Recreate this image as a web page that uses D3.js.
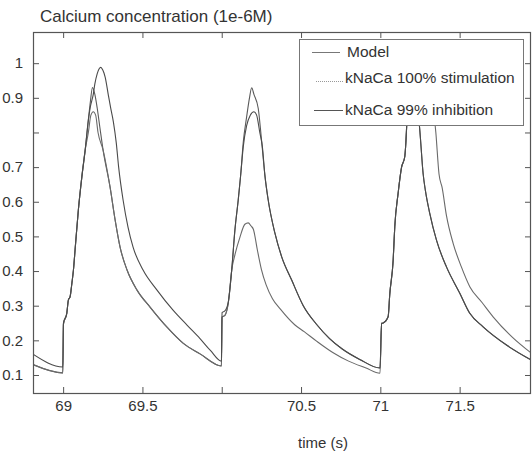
<!DOCTYPE html>
<html>
<head>
<meta charset="utf-8">
<script src="https://cdn.jsdelivr.net/npm/d3@7"></script>
<style>
  body { margin: 0; background: #fff; }
  svg { display: block; font-family: Arial, "Liberation Sans", sans-serif; }
  .axis path { display: none; }
  .axis line { stroke: #555; }
  .axis text { fill: #333; font-size: 15px; }
</style>
</head>
<body>
<svg id="chart"></svg>
<script>
// tick values / labels (0.8 and 70 have no label in the original)
var xTicks = [69, 69.5, 70, 70.5, 71, 71.5],
    xTickLabels = ["69", "69.5", "", "70.5", "71", "71.5"],
    yTicks = [0.1, 0.2, 0.3, 0.4, 0.5, 0.6, 0.7, 0.8, 0.9, 1],
    yTickLabels = ["0.1", "0.2", "0.3", "0.4", "0.5", "0.6", "0.7", "", "0.9", "1"];

var seriesNames = ["Model", "kNaCa 100% stimulation", "kNaCa 99% inhibition"];

// Model
var modelT = [68.81, 68.998,
  69.002, 69.023, 69.033, 69.044, 69.055, 69.065, 69.076, 69.096, 69.118, 69.139, 69.159, 69.172, 69.185, 69.2, 69.215, 69.233, 69.252, 69.296, 69.328, 69.359, 69.403, 69.466, 69.548, 69.655, 69.756, 69.863, 69.998,
  70.002, 70.02, 70.041, 70.063, 70.083, 70.104, 70.12, 70.136, 70.157, 70.175, 70.189, 70.203, 70.23, 70.252, 70.272, 70.293, 70.335, 70.378, 70.441, 70.514, 70.6, 70.68, 70.76, 70.87, 70.998,
  71.008, 71.018, 71.049, 71.06, 71.081, 71.091, 71.112, 71.134, 71.154, 71.165, 71.171, 71.19, 71.21, 71.23, 71.25, 71.27, 71.285, 71.312, 71.354, 71.417, 71.501, 71.564, 71.648, 71.8, 71.952];
var modelCa = [0.13, 0.106,
  0.247, 0.278, 0.316, 0.326, 0.364, 0.403, 0.465, 0.576, 0.672, 0.749, 0.836, 0.89, 0.93, 0.91, 0.87, 0.81, 0.749, 0.642, 0.547, 0.469, 0.403, 0.345, 0.296, 0.238, 0.192, 0.161, 0.126,
  0.267, 0.272, 0.307, 0.403, 0.518, 0.605, 0.68, 0.773, 0.845, 0.9, 0.929, 0.91, 0.87, 0.773, 0.677, 0.605, 0.51, 0.441, 0.374, 0.3, 0.245, 0.205, 0.175, 0.145, 0.12,
  0.249, 0.25, 0.268, 0.336, 0.432, 0.528, 0.624, 0.7, 0.73, 0.807, 0.874, 0.93, 0.95, 0.9, 0.8, 0.68, 0.63, 0.566, 0.489, 0.412, 0.336, 0.278, 0.239, 0.185, 0.143];

// kNaCa 100% stimulation
var stimT = [68.81, 68.998,
  69.002, 69.023, 69.033, 69.044, 69.055, 69.065, 69.076, 69.096, 69.118, 69.139, 69.159, 69.175, 69.19, 69.205, 69.22, 69.252, 69.296, 69.328, 69.359, 69.403, 69.466, 69.548, 69.655, 69.756, 69.863, 69.998,
  70.002, 70.02, 70.041, 70.063, 70.085, 70.115, 70.146, 70.167, 70.185, 70.2, 70.225, 70.25, 70.28, 70.32, 70.37, 70.46, 70.52, 70.6, 70.7, 70.8, 70.91, 70.998,
  71.008, 71.018, 71.049, 71.06, 71.081, 71.091, 71.112, 71.134, 71.154, 71.165, 71.171, 71.2, 71.24, 71.28, 71.31, 71.35, 71.37, 71.39, 71.417, 71.459, 71.511, 71.564, 71.64, 71.711, 71.83, 71.952];
var stimCa = [0.13, 0.106,
  0.247, 0.278, 0.316, 0.326, 0.364, 0.403, 0.465, 0.576, 0.672, 0.749, 0.8, 0.85, 0.86, 0.85, 0.8, 0.749, 0.642, 0.547, 0.469, 0.403, 0.345, 0.296, 0.238, 0.192, 0.161, 0.126,
  0.267, 0.272, 0.307, 0.403, 0.45, 0.498, 0.535, 0.539, 0.53, 0.52, 0.46, 0.405, 0.36, 0.32, 0.29, 0.245, 0.225, 0.197, 0.165, 0.14, 0.12, 0.105,
  0.249, 0.25, 0.268, 0.336, 0.432, 0.528, 0.624, 0.7, 0.73, 0.807, 0.874, 0.95, 1.0, 1.01, 0.95, 0.8, 0.68, 0.64, 0.56, 0.48, 0.412, 0.355, 0.31, 0.268, 0.21, 0.163];

// kNaCa 99% inhibition
var inhibT = [68.81, 68.998,
  69.002, 69.023, 69.033, 69.044, 69.055, 69.065, 69.076, 69.096, 69.118, 69.139, 69.159, 69.172, 69.19, 69.2, 69.215, 69.237, 69.25, 69.265, 69.285, 69.3, 69.317, 69.335, 69.35, 69.378, 69.409, 69.441, 69.504, 69.592, 69.693, 69.781, 69.863, 69.93, 69.998,
  70.002, 70.02, 70.041, 70.063, 70.083, 70.104, 70.12, 70.136, 70.157, 70.18, 70.203, 70.22, 70.24, 70.256, 70.272, 70.293, 70.335, 70.378, 70.441, 70.514, 70.6, 70.68, 70.76, 70.87, 70.998,
  71.008, 71.018, 71.049, 71.06, 71.081, 71.091, 71.112, 71.134, 71.154, 71.165, 71.171, 71.19, 71.21, 71.23, 71.25, 71.27, 71.285, 71.312, 71.354, 71.417, 71.501, 71.564, 71.648, 71.8, 71.952];
var inhibCa = [0.16, 0.123,
  0.25, 0.278, 0.316, 0.326, 0.364, 0.403, 0.465, 0.576, 0.672, 0.749, 0.836, 0.875, 0.91, 0.94, 0.97, 0.988, 0.98, 0.96, 0.908, 0.87, 0.83, 0.77, 0.7, 0.605, 0.527, 0.469, 0.403, 0.345, 0.287, 0.244, 0.205, 0.17, 0.14,
  0.28, 0.285, 0.31, 0.403, 0.518, 0.605, 0.68, 0.76, 0.82, 0.85, 0.86, 0.85, 0.8, 0.76, 0.677, 0.605, 0.51, 0.441, 0.374, 0.3, 0.245, 0.205, 0.175, 0.145, 0.12,
  0.249, 0.25, 0.268, 0.336, 0.432, 0.528, 0.624, 0.7, 0.73, 0.807, 0.874, 0.93, 0.95, 0.9, 0.8, 0.68, 0.63, 0.566, 0.489, 0.412, 0.336, 0.278, 0.239, 0.185, 0.143];

var W = 532, H = 451,
    plot = {left: 33, right: 531, top: 32, bottom: 393};

var svg = d3.select("#chart").attr("width", W).attr("height", H);

var x = d3.scaleLinear().domain([68.81, 71.95]).range([plot.left, plot.right]),
    y = d3.scaleLinear().domain([0.048, 1.09]).range([plot.bottom, plot.top]);

svg.append("defs").append("clipPath").attr("id", "clip")
  .append("rect")
    .attr("x", plot.left).attr("y", plot.top)
    .attr("width", plot.right - plot.left).attr("height", plot.bottom - plot.top);

var line = d3.line()
    .x(function(d) { return x(d.t); })
    .y(function(d) { return y(d.v); })
    .curve(d3.curveMonotoneX);

function zip(ts, vs) {
  return ts.map(function(t, i) { return {t: t, v: vs[i]}; });
}

var series = [
  {name: seriesNames[0], data: zip(modelT, modelCa), color: "#5a5a5a"},
  {name: seriesNames[1], data: zip(stimT, stimCa), color: "#6a6a6a"},
  {name: seriesNames[2], data: zip(inhibT, inhibCa), color: "#4a4a4a"}
];

var lines = svg.append("g").attr("clip-path", "url(#clip)");
lines.selectAll("path")
    .data(series)
  .enter().append("path")
    .attr("fill", "none")
    .attr("stroke", function(d) { return d.color; })
    .attr("stroke-width", 1.1)
    .attr("d", function(d) { return line(d.data); });

// axes, ticks pointing inward (matlab style)
svg.append("g")
    .attr("class", "axis")
    .attr("transform", "translate(0," + plot.bottom + ")")
    .call(d3.axisBottom(x).tickValues(xTicks).tickSize(-6).tickPadding(7)
      .tickFormat(function(d, i) { return xTickLabels[i]; }));

svg.append("g")
    .attr("class", "axis")
    .attr("transform", "translate(0," + plot.top + ")")
    .call(d3.axisTop(x).tickValues(xTicks).tickSize(-6).tickFormat(""));

svg.append("g")
    .attr("class", "axis")
    .attr("transform", "translate(" + plot.left + ",0)")
    .call(d3.axisLeft(y).tickValues(yTicks).tickSize(-6).tickPadding(10)
      .tickFormat(function(d, i) { return yTickLabels[i]; }));

svg.append("g")
    .attr("class", "axis")
    .attr("transform", "translate(" + plot.right + ",0)")
    .call(d3.axisRight(y).tickValues(yTicks).tickSize(-6).tickFormat(""));

// plot box
svg.append("rect")
    .attr("x", plot.left + 0.5).attr("y", plot.top + 0.5)
    .attr("width", plot.right - plot.left - 1).attr("height", plot.bottom - plot.top)
    .attr("fill", "none").attr("stroke", "#555").attr("stroke-width", 1.2);

// title and x label
svg.append("text")
    .attr("x", 40).attr("y", 22)
    .attr("fill", "#333").style("font-size", "17px")
    .text("Calcium concentration (1e-6M)");

svg.append("text")
    .attr("x", 323).attr("y", 448)
    .attr("text-anchor", "middle")
    .attr("fill", "#333").style("font-size", "15px")
    .text("time (s)");

// legend
var legend = svg.append("g");
legend.append("rect")
    .attr("x", 299.5).attr("y", 39.5).attr("width", 224).attr("height", 86)
    .attr("fill", "#fff").attr("stroke", "#777").attr("stroke-width", 1);

var legendRows = [
  {y: 52, lx1: 312, lx2: 340, tx: 347, color: "#777", dash: null, width: 1},
  {y: 81, lx1: 316, lx2: 343, tx: 345, color: "#999", dash: "1,1", width: 1},
  {y: 110, lx1: 314, lx2: 343, tx: 345, color: "#555", dash: null, width: 1}
];

legendRows.forEach(function(r, i) {
  legend.append("line")
      .attr("x1", r.lx1).attr("x2", r.lx2)
      .attr("y1", r.y + 0.5).attr("y2", r.y + 0.5)
      .attr("stroke", r.color).attr("stroke-width", r.width)
      .attr("stroke-dasharray", r.dash);
  legend.append("text")
      .attr("x", r.tx).attr("y", i === 1 ? 83 : r.y + 5)
      .attr("fill", "#333").style("font-size", "15.5px")
      .text(seriesNames[i]);
});
</script>
</body>
</html>
